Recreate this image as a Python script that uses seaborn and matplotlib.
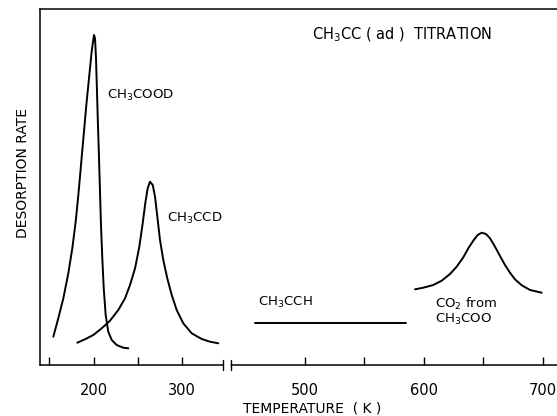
import numpy as np
import matplotlib
matplotlib.use("Agg")
import matplotlib.pyplot as plt
import seaborn as sns

# ---- data (temperature K, desorption rate in arbitrary units) ----
cood_T = [154.6, 160.2, 165.9, 171.5, 176.0, 179.8, 182.8, 185.8, 188.8, 191.8, 194.8, 197.8, 200.4,
          201.6, 202.7, 203.8, 204.9, 206.1, 207.2, 208.3, 209.8, 211.4, 213.6, 216.5, 220.4, 226.0, 233.4, 239.1]
cood_r = [28.3, 46.7, 66.7, 91.7, 116.7, 143.3, 170, 200, 230, 260, 286.7, 313.3, 330,
          326.7, 306.7, 273.3, 240, 206.7, 173.3, 140, 106.7, 76.7, 50, 33.3, 25, 20, 17.3, 16.7]

ccd_T = [181.6, 190.3, 199.7, 209.1, 218.5, 227.8, 235.4, 241.0, 246.7, 251.5, 255.3, 258.2, 260.9, 263.5,
         266.6, 269.2, 271.8, 274.8, 278.5, 283.0, 288.0, 293.6, 301.0, 310.5, 321.8, 331.1, 340.5]
ccd_r = [22.3, 25.7, 30, 36.7, 44.3, 55, 66.7, 80, 96.7, 118.3, 141.7, 161.7, 176.7, 183.3,
         180, 168.3, 148.3, 125, 105, 86.7, 70, 55, 41.7, 31.7, 26, 23.3, 21.7]

cch_T = [457.9, 584.8]
cch_r = [42, 42]

co2_T = [592.6, 599.6, 608.0, 615.1, 622.1, 627.7, 633.3, 637.5, 641.7, 645.4, 648.8, 652.4, 655.8,
         660.0, 664.2, 668.4, 672.6, 676.8, 682.5, 689.5, 699.3]
co2_r = [75.7, 77.3, 80, 84.3, 91, 98.3, 107.7, 116.7, 124.3, 130, 132.3, 131, 126.7,
         118.3, 109, 100, 92.3, 85.7, 79.7, 75, 72.3]

tick_vals = [150, 200, 250, 300, 500, 550, 600, 650, 700]
tick_labels = ["", "200", "", "300", "500", "", "600", "", "700"]

# ---- broken temperature scale (two linear segments) ----
_T = np.array([-1000.0, 345.8, 437.6, 5000.0])
_P = np.array([115.8 + 0.8876 * (-1000 - 225), 223.0, 230.9, 305 + 1.1875 * (5000 - 500)])

def fwd(t):
    return np.interp(np.asarray(t, dtype=float), _T, _P)

def inv(p):
    return np.interp(np.asarray(p, dtype=float), _P, _T)

sns.set_style("white")
plt.rcParams["font.family"] = ["DejaVu Sans"]
plt.rcParams["text.color"] = "black"
plt.rcParams["axes.labelcolor"] = "black"
plt.rcParams["xtick.color"] = "black"

fig = plt.figure(figsize=(5.57, 4.16), dpi=100)
ax = fig.add_axes([40 / 557, 1 - 365 / 416, 517 / 557, 356 / 416])
ax.set_xscale("function", functions=(fwd, inv))

lw = 1.4
for T, r in [(cood_T, cood_r), (ccd_T, ccd_r), (cch_T, cch_r), (co2_T, co2_r)]:
    sns.lineplot(x=T, y=r, ax=ax, color="black", linewidth=lw, estimator=None, sort=False)

ax.set_xlim(139.6, 712.2)
ax.set_ylim(0, 356)

ax.set_xticks(tick_vals)
ax.set_xticklabels(tick_labels, fontsize=10.5, color="black")
ax.tick_params(axis="x", bottom=True, direction="in", length=6, width=1, pad=13, color="black")
ax.set_yticks([])

for s in ["left", "top"]:
    ax.spines[s].set_visible(True)
    ax.spines[s].set_color("black")
    ax.spines[s].set_linewidth(1.1)
ax.spines["right"].set_visible(False)
ax.spines["bottom"].set_visible(False)

# bottom axis drawn in two pieces with a break
xb1 = (223 - 40) / 517
xb2 = (231 - 40) / 517
ax.axhline(0, xmin=0, xmax=xb1, color="black", lw=1.1, clip_on=False)
ax.axhline(0, xmin=xb2, xmax=1, color="black", lw=1.1, clip_on=False)
for xf in (xb1, xb2):
    ax.plot([xf, xf], [-0.014, 0.014], transform=ax.transAxes, color="black", lw=1.0, clip_on=False)

ax.set_xlabel("TEMPERATURE  ( K )", fontsize=10, color="black")
ax.xaxis.set_label_coords((312 - 40) / 517, (365 - 402) / 356)
ax.set_ylabel("DESORPTION RATE", fontsize=10, color="black")
ax.yaxis.set_label_coords((30 - 40) / 517, (365 - 173) / 356)

fs = 9.5
ax.text(215.1, 270, r"CH$_3$COOD", fontsize=fs, ha="left", va="center")
ax.text(282.7, 147, r"CH$_3$CCD", fontsize=fs, ha="left", va="center")
ax.text(505.9, 330, r"CH$_3$CC ( ad )  TITRATION", fontsize=10.5, ha="left", va="center")
ax.text(460.4, 63, r"CH$_3$CCH", fontsize=fs, ha="left", va="center")
ax.text(609.5, 61, r"CO$_2$ from", fontsize=fs, ha="left", va="center")
ax.text(609.5, 46, r"CH$_3$COO", fontsize=fs, ha="left", va="center")

fig.savefig("out.png", dpi=100)
